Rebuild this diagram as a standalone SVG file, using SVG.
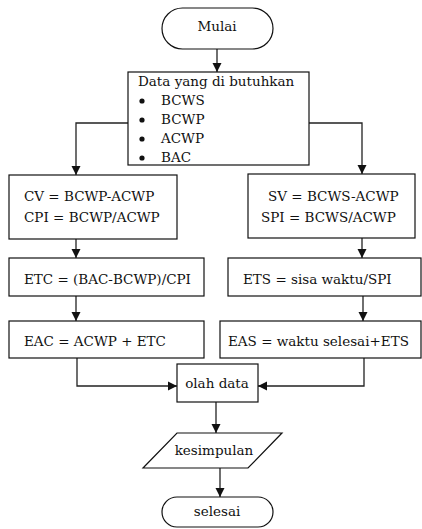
<svg xmlns="http://www.w3.org/2000/svg" width="422" height="529" viewBox="0 0 422 529">
<style>
.box{fill:#fff;stroke:#111;stroke-width:1.2}
.t{font-family:"DejaVu Serif","Liberation Serif",serif;font-size:13.5px;fill:#111}
.c{text-anchor:middle}
.ln{fill:none;stroke:#222;stroke-width:1.3}
</style>
<defs>
<marker id="ah" markerWidth="10" markerHeight="10" refX="9" refY="5" orient="auto" markerUnits="userSpaceOnUse">
<path d="M0,0.5 L9,5 L0,9.5 Z" fill="#111"/>
</marker>
</defs>
<rect width="422" height="529" fill="#fff"/>
<g id="connectors">
<path class="ln" d="M217,49 V72" marker-end="url(#ah)"/>
<path class="ln" d="M128,123 H76 V175" marker-end="url(#ah)"/>
<path class="ln" d="M309,123 H362 V174" marker-end="url(#ah)"/>
<path class="ln" d="M76,239 V258" marker-end="url(#ah)"/>
<path class="ln" d="M76,296 V321" marker-end="url(#ah)"/>
<path class="ln" d="M362,238 V258" marker-end="url(#ah)"/>
<path class="ln" d="M363,296 V321" marker-end="url(#ah)"/>
<path class="ln" d="M77,358 V386 H177" marker-end="url(#ah)"/>
<path class="ln" d="M364,358 V386 H258" marker-end="url(#ah)"/>
<path class="ln" d="M216,402 V433" marker-end="url(#ah)"/>
<path class="ln" d="M220,468 V497" marker-end="url(#ah)"/>
</g>
<g id="mulai">
<rect class="box" x="162" y="8" width="111" height="41" rx="20.5"/>
<text class="t c" x="217" y="31">Mulai</text>
</g>
<g id="data">
<rect class="box" x="128" y="72" width="181" height="93"/>
<text class="t" x="138" y="86">Data yang di butuhkan</text>
<circle cx="142" cy="101" r="2.6" fill="#111"/>
<circle cx="142" cy="120" r="2.6" fill="#111"/>
<circle cx="142" cy="139" r="2.6" fill="#111"/>
<circle cx="142" cy="158" r="2.6" fill="#111"/>
<text class="t" x="161" y="105">BCWS</text>
<text class="t" x="161" y="124">BCWP</text>
<text class="t" x="161" y="143">ACWP</text>
<text class="t" x="161" y="162">BAC</text>
</g>
<g id="cv">
<rect class="box" x="9" y="175" width="168" height="64"/>
<text class="t" x="24" y="201">CV = BCWP-ACWP</text>
<text class="t" x="24" y="222">CPI = BCWP/ACWP</text>
</g>
<g id="etc">
<rect class="box" x="9" y="258" width="195" height="38"/>
<text class="t" x="24" y="284">ETC = (BAC-BCWP)/CPI</text>
</g>
<g id="eac">
<rect class="box" x="9" y="321" width="195" height="37"/>
<text class="t" x="24" y="346">EAC = ACWP + ETC</text>
</g>
<g id="sv">
<rect class="box" x="248" y="174" width="167" height="64"/>
<text class="t" x="268" y="201">SV = BCWS-ACWP</text>
<text class="t" x="261" y="222">SPI = BCWS/ACWP</text>
</g>
<g id="ets">
<rect class="box" x="228" y="258" width="193" height="38"/>
<text class="t" x="243" y="284">ETS = sisa waktu/SPI</text>
</g>
<g id="eas">
<rect class="box" x="220" y="321" width="201" height="37"/>
<text class="t" x="228" y="346">EAS = waktu selesai+ETS</text>
</g>
<g id="olah">
<rect class="box" x="177" y="364" width="81" height="38"/>
<text class="t c" x="217" y="388">olah data</text>
</g>
<g id="kesimpulan">
<polygon class="box" points="177,433 282,433 248,468 143,468"/>
<text class="t c" x="214" y="455">kesimpulan</text>
</g>
<g id="selesai">
<rect class="box" x="162" y="497" width="111" height="30" rx="15"/>
<text class="t c" x="217" y="516">selesai</text>
</g>
</svg>
